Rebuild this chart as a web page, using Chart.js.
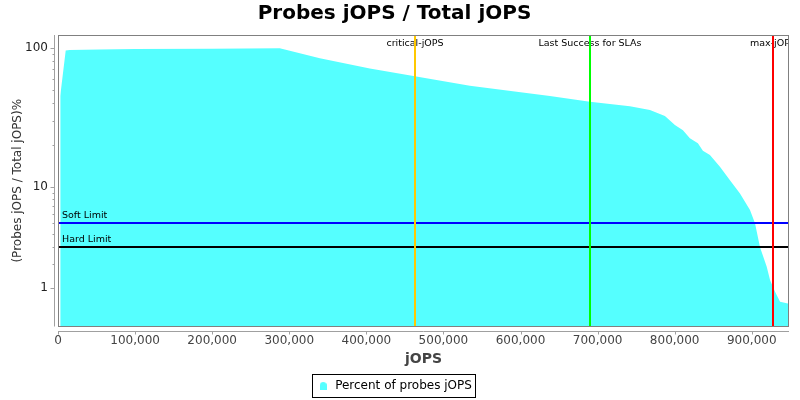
<!DOCTYPE html>
<html>
<head>
<meta charset="utf-8">
<script src="https://cdn.jsdelivr.net/npm/chart.js@4.4.1/dist/chart.umd.min.js"></script>
<style>
  html, body { margin: 0; padding: 0; background: #fff; }
  #wrap { width: 800px; height: 400px; }
</style>
</head>
<body>
<div id="wrap"><canvas id="chartProbes" width="800" height="400"></canvas></div>
<script>
// jOPS (x) and percent of probes jOPS (y)
const jops = [2900, 10000, 15200, 54000, 100000, 200000, 287700, 339700, 404500, 462900,
  534300, 638100, 690000, 741900, 767900, 787300, 800300, 810700, 819700, 830100,
  836600, 845700, 858700, 871700, 884700, 897700, 904200, 910700, 919400, 923700,
  930200, 936700, 948300];
const probesPct = [45, 95.5, 96.5, 97.3, 97.8, 98.5, 99, 84, 71.1, 62.3,
  53.3, 45, 40.9, 38.1, 35.7, 32.4, 27.9, 25.6, 22.4, 20.6,
  18.2, 17.0, 14.0, 11.2, 8.9, 6.5, 5.0, 3.0, 1.87, 1.28,
  0.86, 0.56, 0.51];

const xTickValues = [0, 100000, 200000, 300000, 400000, 500000, 600000, 700000, 800000, 900000];
const yTickValues = [1, 10, 100];
const yMinorValues = [2, 3, 4, 5, 6, 7, 8, 9, 20, 30, 40, 50, 60, 70, 80, 90];

const refLineNames = ["critical-jOPS", "Last Success for SLAs", "max-jOPS"];
const refLineJops = [462900, 690100, 926900];
const limitNames = ["Soft Limit", "Hard Limit"];
const limitValues = [5, 3];

const FONT = "DejaVu Sans";

// JFreeChart-style "adjusted" log10: values below 10 are squeezed so 0 maps to 0
const adj = (v) => Math.log10(v < 10 ? v + (10 - v) / 10 : v);
const unadj = (l) => { const a = Math.pow(10, l); return a < 10 ? (a - 1) / 0.9 : a; };

class AdjustedLogScale extends Chart.LinearScale {
  determineDataLimits() { this.min = this.options.min; this.max = this.options.max; }
  buildTicks() { return yTickValues.map(v => ({ value: v })); }
  getPixelForValue(v) {
    const a = adj(this.min), b = adj(this.max);
    return this.getPixelForDecimal((adj(v) - a) / (b - a));
  }
  getValueForPixel(p) {
    const a = adj(this.min), b = adj(this.max);
    return unadj(a + this.getDecimalForPixel(p) * (b - a));
  }
}
AdjustedLogScale.id = "adjlog";
AdjustedLogScale.defaults = {};
Chart.register(AdjustedLogScale);

// legend marker: little dome shape
const marker = document.createElement("canvas");
marker.width = 7; marker.height = 8;
{
  const m = marker.getContext("2d");
  m.fillStyle = "#55FFFF";
  m.beginPath(); m.arc(3.5, 3.5, 3.5, Math.PI, 0); m.lineTo(7, 8); m.lineTo(0, 8); m.closePath(); m.fill();
}

const refColors = ["#FFC800", "#00FF00", "#FF0000"];
const limitColors = ["#0000FF", "#000000"];

const chromePlugin = {
  id: "chrome",
  afterDatasetsDraw(chart) {
    const { ctx, chartArea: a, scales: { x, y } } = chart;
    ctx.save();
    ctx.beginPath(); ctx.rect(a.left, a.top, a.right - a.left, a.bottom - a.top); ctx.clip();
    ctx.lineWidth = 2;
    ctx.font = `9.5px "${FONT}"`;
    ctx.fillStyle = "#000";
    limitValues.forEach((v, i) => {
      const py = Math.round(y.getPixelForValue(v));
      ctx.strokeStyle = limitColors[i];
      ctx.beginPath(); ctx.moveTo(a.left, py); ctx.lineTo(a.right, py); ctx.stroke();
      ctx.textAlign = "left"; ctx.textBaseline = "alphabetic";
      ctx.fillText(limitNames[i], a.left + 4, py - 5);
    });
    refLineJops.forEach((v, i) => {
      const px = Math.round(x.getPixelForValue(v));
      ctx.textAlign = "center"; ctx.textBaseline = "alphabetic";
      ctx.fillText(refLineNames[i], px, a.top + 11);
      ctx.strokeStyle = refColors[i];
      ctx.beginPath(); ctx.moveTo(px, a.top); ctx.lineTo(px, a.bottom); ctx.stroke();
    });
    ctx.restore();
  },
  afterDraw(chart) {
    const { ctx, chartArea: a, scales: { x, y } } = chart;
    ctx.save();
    // plot outline
    ctx.strokeStyle = "#808080"; ctx.lineWidth = 1;
    ctx.strokeRect(Math.round(a.left) + 0.5, Math.round(a.top) + 0.5,
      Math.round(a.right - a.left) - 1, Math.round(a.bottom - a.top) - 1);
    // axis lines, offset from the plot like JFreeChart
    ctx.strokeStyle = "#A0A0A0";
    const ax = Math.round(a.left) - 3.5, ay = Math.round(a.bottom) + 4.5;
    ctx.beginPath();
    ctx.moveTo(ax, a.top); ctx.lineTo(ax, a.bottom);
    ctx.moveTo(a.left, ay); ctx.lineTo(a.right, ay);
    yTickValues.forEach(v => { const p = Math.round(y.getPixelForValue(v)) + 0.5; ctx.moveTo(ax - 4, p); ctx.lineTo(ax, p); });
    yMinorValues.forEach(v => { const p = Math.round(y.getPixelForValue(v)) + 0.5; ctx.moveTo(ax - 2, p); ctx.lineTo(ax, p); });
    xTickValues.forEach(v => { const p = Math.round(x.getPixelForValue(v)) + 0.5; ctx.moveTo(p, ay); ctx.lineTo(p, ay + 3); });
    ctx.stroke();
    // legend frame
    const hb = chart.legend.legendHitBoxes[0];
    if (hb) {
      ctx.strokeStyle = "#000";
      const cy = hb.top + hb.height / 2;
      ctx.strokeRect(Math.round(hb.left - 5) + 0.5, Math.round(cy - 12) + 0.5, Math.round(hb.width + 8), 23);
    }
    ctx.restore();
  }
};

new Chart(document.getElementById("chartProbes"), {
  type: "line",
  data: {
    datasets: [{
      label: "Percent of probes jOPS",
      data: jops.map((j, i) => ({ x: j, y: probesPct[i] })),
      backgroundColor: "#55FFFF",
      borderColor: "#55FFFF",
      borderWidth: 0,
      pointRadius: 0,
      pointStyle: marker,
      tension: 0,
      fill: "start"
    }]
  },
  options: {
    responsive: false,
    animation: false,
    layout: { padding: { left: 0, right: 11, top: 0, bottom: -2 } },
    plugins: {
      title: {
        display: true,
        text: "Probes jOPS / Total jOPS",
        color: "#000",
        font: { family: FONT, size: 20, weight: "bold" },
        padding: { top: 2, bottom: 9 }
      },
      legend: {
        position: "bottom",
        labels: {
          usePointStyle: true,
          pointStyle: marker,
          color: "#000",
          font: { family: FONT, size: 12 },
          padding: 8
        }
      },
      tooltip: { enabled: false }
    },
    scales: {
      x: {
        type: "linear",
        min: 0,
        max: 948300,
        afterBuildTicks: (s) => { s.ticks = xTickValues.map(v => ({ value: v })); },
        afterFit: (s) => { s.height = 45.5; },
        grid: { display: false, drawTicks: false },
        border: { display: false },
        ticks: {
          color: "#444",
          padding: 7.5,
          maxRotation: 0,
          font: { family: FONT, size: 12 },
          callback: (v) => Number(v).toLocaleString("en-US")
        },
        title: {
          display: true,
          text: "jOPS",
          color: "#444",
          font: { family: FONT, size: 14, weight: "bold" },
          padding: { top: 0, bottom: 4 }
        }
      },
      y: {
        type: "adjlog",
        min: 0,
        max: 123.4,
        afterFit: (s) => { s.width = 58; },
        grid: { display: false, drawTicks: false },
        border: { display: false },
        ticks: {
          color: "#222",
          padding: 10,
          font: { family: FONT, size: 12 },
          callback: (v) => String(v)
        },
        title: {
          display: true,
          text: "(Probes jOPS / Total jOPS)%",
          color: "#333",
          font: { family: FONT, size: 12 },
          padding: { top: 11, bottom: 0 }
        }
      }
    }
  },
  plugins: [chromePlugin]
});
</script>
</body>
</html>
